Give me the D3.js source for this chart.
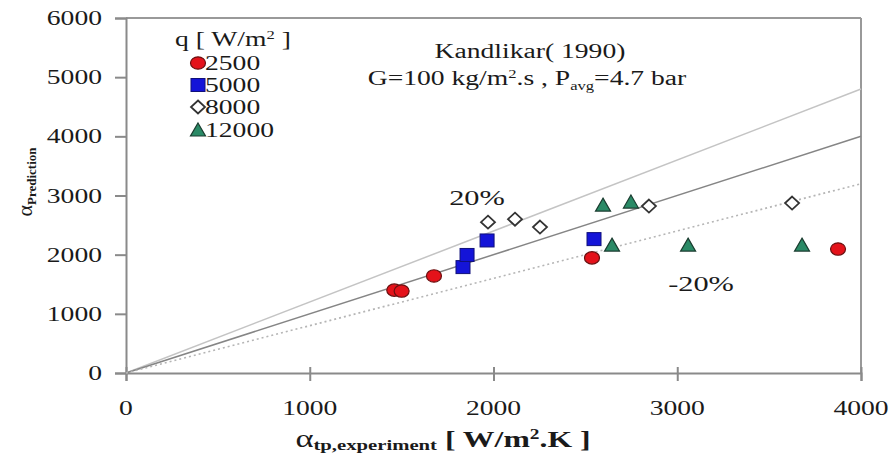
<!DOCTYPE html>
<html><head><meta charset="utf-8">
<script src="https://cdn.jsdelivr.net/npm/d3@7"></script>
<style>body{margin:0;background:#fff}svg{display:block}</style>
</head><body>
<svg id="c" width="892" height="457"></svg>
<script>
const xTicks = [0, 1000, 2000, 3000, 4000];
const yTicks = [0, 1000, 2000, 3000, 4000, 5000, 6000];
const seriesNames = ["2500", "5000", "8000", "12000"];
const s2500x = [1460, 1500, 1676, 2536, 3875];
const s2500y = [1400, 1385, 1640, 1945, 2095];
const s5000x = [1834, 1856, 1965, 2547];
const s5000y = [1790, 1995, 2240, 2263];
const s8000x = [1970, 2117, 2253, 2846, 3625];
const s8000y = [2550, 2600, 2466, 2821, 2872];
const s12000x = [2596, 2748, 2645, 3059, 3679];
const s12000y = [2838, 2889, 2162, 2162, 2162];
const refFactors = [1.2, 1.0, 0.8];

const FONT = "'Liberation Serif', 'Times New Roman', serif";
const svg = d3.select("#c");
const x = d3.scaleLinear().domain([0, 4000]).range([126, 861]);
const y = d3.scaleLinear().domain([0, 6000]).range([373, 18]);
const SX = 1.38;

function txt(px, py, anchor, size, weight) {
  const g = svg.append("g").attr("transform", `translate(${px},${py}) scale(${SX},1)`);
  return g.append("text").attr("font-family", FONT).attr("fill", "#1a1a1a").attr("text-anchor", anchor).attr("font-size", size).attr("font-weight", weight || "normal");
}

// frame
const axisCol = "#8a8a8a";
svg.append("line").attr("x1", x(0)).attr("x2", x(4000)).attr("y1", y(6000)).attr("y2", y(6000)).attr("stroke", "#999").attr("stroke-width", 2);
svg.append("line").attr("x1", x(4000)).attr("x2", x(4000)).attr("y1", y(6000)).attr("y2", y(0)).attr("stroke", "#999").attr("stroke-width", 2);

// y axis
const ya = svg.append("g").attr("transform", `translate(${x(0)},0)`)
  .call(d3.axisLeft(y).tickValues(yTicks).tickSize(11).tickFormat(""));
ya.selectAll("path,line").attr("stroke", axisCol).attr("stroke-width", 2);
// x axis
const xa = svg.append("g").attr("transform", `translate(0,${y(0)})`)
  .call(d3.axisBottom(x).tickValues(xTicks).tickSize(8).tickFormat(""));
xa.selectAll("path,line").attr("stroke", axisCol).attr("stroke-width", 2);
xa.selectAll(".tick line").attr("y1", -6);

yTicks.forEach(v => txt(102, y(v) + 7, "end", 20).text(v));
xTicks.forEach(v => txt(x(v), 415, "middle", 20).text(v));

// reference lines
const refStyle = [
  {c: "#c4c4c4", d: null, w: 1.5},
  {c: "#858585", d: null, w: 1.5},
  {c: "#b5b5b5", d: "2,3", w: 1.6}
];
refFactors.forEach((f, i) => {
  const l = svg.append("line").attr("x1", x(0)).attr("y1", y(0)).attr("x2", x(4000)).attr("y2", y(4000 * f))
    .attr("stroke", refStyle[i].c).attr("stroke-width", refStyle[i].w);
  if (refStyle[i].d) l.attr("stroke-dasharray", refStyle[i].d);
});

// markers
function circ(g, cx, cy) { g.append("ellipse").attr("cx", cx).attr("cy", cy).attr("rx", 7.5).attr("ry", 6.2).attr("fill", "#e4121a").attr("stroke", "#6a1010").attr("stroke-width", 1.2); }
function sq(g, cx, cy) { g.append("rect").attr("x", cx - 7).attr("y", cy - 6.5).attr("width", 14).attr("height", 13).attr("fill", "#1414d8").attr("stroke", "#10107a").attr("stroke-width", 1); }
function dia(g, cx, cy) { g.append("path").attr("d", `M${cx},${cy-6.5}L${cx+7},${cy}L${cx},${cy+6.5}L${cx-7},${cy}Z`).attr("fill", "#fff").attr("stroke", "#333").attr("stroke-width", 1.8); }
function tri(g, cx, cy) { g.append("path").attr("d", `M${cx},${cy-7}L${cx+7.5},${cy+6}L${cx-7.5},${cy+6}Z`).attr("fill", "#2a8a66").attr("stroke", "#1b3d30").attr("stroke-width", 1.2); }

const pts = svg.append("g");
s2500x.forEach((v, i) => circ(pts, x(v), y(s2500y[i])));
s5000x.forEach((v, i) => sq(pts, x(v), y(s5000y[i])));
s8000x.forEach((v, i) => dia(pts, x(v), y(s8000y[i])));
s12000x.forEach((v, i) => tri(pts, x(v), y(s12000y[i])));

// legend
const lt = txt(175, 46, "start", 20);
lt.append("tspan").text("q [ W/m");
lt.append("tspan").attr("font-size", 12).attr("dy", -7).text("2");
lt.append("tspan").attr("dy", 7).text(" ]");
const legY = [63, 85, 107, 130];
const markFns = [circ, sq, dia, tri];
seriesNames.forEach((n, i) => {
  markFns[i](svg, 198, legY[i]);
  txt(205, legY[i] + 7, "start", 20).text(n);
});

// annotation
txt(530, 58, "middle", 20).text("Kandlikar( 1990)");
const a2 = txt(527, 85, "middle", 20);
a2.append("tspan").text("G=100 kg/m");
a2.append("tspan").attr("font-size", 12).attr("dy", -7).text("2");
a2.append("tspan").attr("dy", 7).text(".s , P");
a2.append("tspan").attr("font-size", 12).attr("dy", 5).text("avg");
a2.append("tspan").attr("dy", -5).text("=4.7 bar");

txt(477, 205, "middle", 22).text("20%");
txt(701, 291, "middle", 22).text("-20%");

// axis titles
const xt = txt(443, 447, "middle", 23, "bold");
xt.append("tspan").attr("font-weight", "normal").attr("font-size", 25).text("α");
xt.append("tspan").attr("font-size", 15).attr("dy", 3).text("tp,experiment");
xt.append("tspan").attr("dy", -3).text(" [ W/m");
xt.append("tspan").attr("font-size", 14).attr("dy", -8).text("2");
xt.append("tspan").attr("dy", 8).text(".K ]");

const ytg = svg.append("g").attr("transform", "translate(32,182) rotate(-90)");
const yt = ytg.append("text").attr("font-family", FONT).attr("fill", "#1a1a1a").attr("text-anchor", "middle").attr("font-size", 22);
yt.append("tspan").text("α");
yt.append("tspan").attr("font-size", 13).attr("font-weight", "bold").attr("dy", 4).text("Prediction");
</script>
</body></html>
